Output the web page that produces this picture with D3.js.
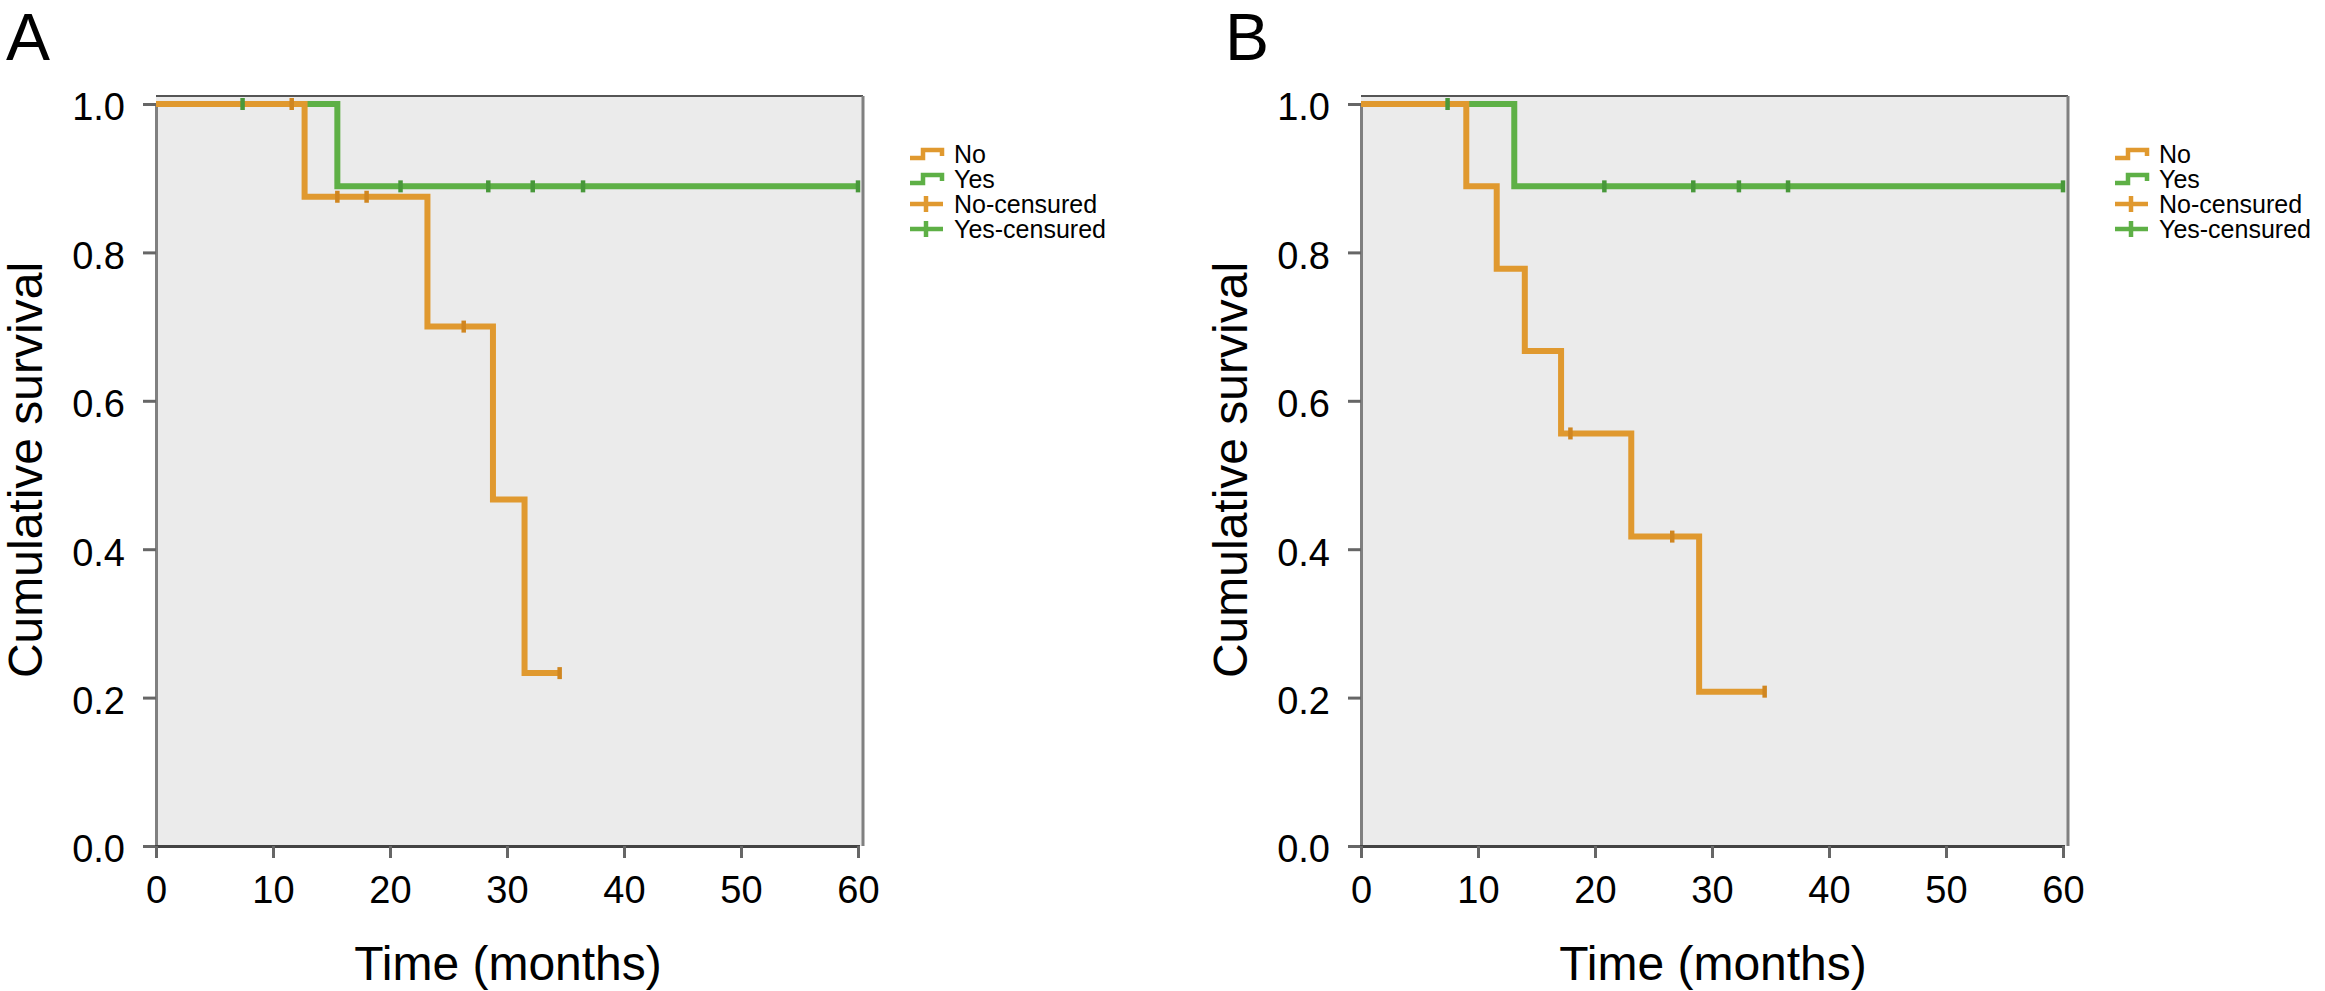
<!DOCTYPE html>
<html><head><meta charset="utf-8">
<script src="https://cdn.jsdelivr.net/npm/d3@7/dist/d3.min.js"></script>
<style>
html,body{margin:0;padding:0;background:#fff;}
svg text{font-family:"Liberation Sans",Arial,Helvetica,sans-serif;fill:#000;}
</style></head>
<body>
<svg id="chart" width="2325" height="991"></svg>
<script>
// ---- data ----
const panelLabels = ["A", "B"];
const xTicks = [0, 10, 20, 30, 40, 50, 60];
const yTicks = [0.0, 0.2, 0.4, 0.6, 0.8, 1.0];
const legendLabels = ["No", "Yes", "No-censured", "Yes-censured"];
const xTitle = "Time (months)";
const yTitle = "Cumulative survival";

// Panel A: step curves [time, survival]
const aNoSteps = [[0,1.0],[12.7,0.875],[23.2,0.700],[28.8,0.467],[31.5,0.233],[34.5,0.233]];
const aNoCensored = [[11.6,1.0],[15.5,0.875],[18.0,0.875],[26.3,0.700],[34.5,0.233]];
const aYesSteps = [[0,1.0],[15.5,0.889],[60,0.889]];
const aYesCensored = [[7.4,1.0],[20.9,0.889],[28.4,0.889],[32.2,0.889],[36.5,0.889],[60,0.889]];

// Panel B
const bNoSteps = [[0,1.0],[9.0,0.889],[11.6,0.778],[14.0,0.667],[17.1,0.556],[23.1,0.417],[28.9,0.208],[34.5,0.208]];
const bNoCensored = [[17.9,0.556],[26.6,0.417],[34.5,0.208]];
const bYesSteps = [[0,1.0],[13.1,0.889],[60,0.889]];
const bYesCensored = [[7.4,1.0],[20.8,0.889],[28.4,0.889],[32.3,0.889],[36.5,0.889],[60,0.889]];

const panels = [
  {label: panelLabels[0], no: aNoSteps, noC: aNoCensored, yes: aYesSteps, yesC: aYesCensored},
  {label: panelLabels[1], no: bNoSteps, noC: bNoCensored, yes: bYesSteps, yesC: bYesCensored}
];

const colNo = "#e0992f", colYes = "#5eb046";
const colNoC = "#d08620", colYesC = "#48983a";

const svg = d3.select("#chart");

panels.forEach((p, i) => {
  const off = i * 1205;
  const g = svg.append("g").attr("transform", `translate(${off},0)`);
  const x = d3.scaleLinear().domain([0, 60]).range([156, 858]);
  const y = d3.scaleLinear().domain([0, 1]).range([846, 104]);

  // panel letter
  g.append("text").attr("x", i === 0 ? 6 : 20).attr("y", 60)
    .style("font-size", "66px").text(p.label);

  // plot background
  g.append("rect").attr("x", x(0)).attr("y", y(1) - 8)
    .attr("width", x(60) + 5 - x(0)).attr("height", y(0) - y(1) + 8)
    .attr("fill", "#ebebeb");
  // top and right frame
  g.append("line").attr("x1", x(0)).attr("x2", x(60) + 5)
    .attr("y1", y(1) - 8).attr("y2", y(1) - 8)
    .attr("stroke", "#555").attr("stroke-width", 2);
  g.append("line").attr("x1", x(60) + 5).attr("x2", x(60) + 5)
    .attr("y1", y(1) - 8).attr("y2", y(0))
    .attr("stroke", "#808080").attr("stroke-width", 3);

  // axes
  const yAxis = d3.axisLeft(y).tickValues(yTicks).tickFormat(d3.format(".1f"))
    .tickSize(13).tickPadding(18);
  const ya = g.append("g").attr("transform", `translate(${x(0)},0)`).call(yAxis);
  ya.select(".domain").attr("stroke", "#808080").attr("stroke-width", 3);
  ya.selectAll(".tick line").attr("stroke", "#666").attr("stroke-width", 3);
  ya.selectAll(".tick text").style("font-size", "38px").attr("font-family", null)
    .attr("dy", "0.42em");

  const xAxis = d3.axisBottom(x).tickValues(xTicks).tickFormat(d3.format("d"))
    .tickSize(12).tickPadding(18);
  const xa = g.append("g").attr("transform", `translate(0,${y(0)})`).call(xAxis);
  xa.select(".domain").attr("stroke", "#444").attr("stroke-width", 3);
  xa.selectAll(".tick line").attr("stroke", "#666").attr("stroke-width", 3);
  xa.selectAll(".tick text").style("font-size", "38px").attr("font-family", null);

  // axis titles
  g.append("text").attr("x", 508).attr("y", 980).attr("text-anchor", "middle")
    .style("font-size", "48px").text(xTitle);
  g.append("text").attr("transform", `translate(42,470) rotate(-90)`)
    .attr("text-anchor", "middle").style("font-size", "48px").text(yTitle);

  // curves
  const line = d3.line().x(d => x(d[0])).y(d => y(d[1])).curve(d3.curveStepAfter);
  g.append("path").datum(p.yes).attr("d", line).attr("fill", "none")
    .attr("stroke", colYes).attr("stroke-width", 6);
  g.append("path").datum(p.no).attr("d", line).attr("fill", "none")
    .attr("stroke", colNo).attr("stroke-width", 6);

  // censor marks
  g.selectAll(".cy").data(p.yesC).join("line")
    .attr("x1", d => x(d[0])).attr("x2", d => x(d[0]))
    .attr("y1", d => y(d[1]) - 6).attr("y2", d => y(d[1]) + 6)
    .attr("stroke", colYesC).attr("stroke-width", 4.5);
  g.selectAll(".cn").data(p.noC).join("line")
    .attr("x1", d => x(d[0])).attr("x2", d => x(d[0]))
    .attr("y1", d => y(d[1]) - 6).attr("y2", d => y(d[1]) + 6)
    .attr("stroke", colNoC).attr("stroke-width", 4.5);

  // legend
  const lg = g.append("g");
  const lx = 910;
  const rows = [
    {t: legendLabels[0], c: colNo, type: "step"},
    {t: legendLabels[1], c: colYes, type: "step"},
    {t: legendLabels[2], c: colNo, type: "cross"},
    {t: legendLabels[3], c: colYes, type: "cross"}
  ];
  rows.forEach((r, k) => {
    const base = 163 + k * 25;
    const c = base - 9;
    if (r.type === "step") {
      lg.append("path")
        .attr("d", `M${lx},${c + 4}H${lx + 13}V${c - 4}H${lx + 32}V${c + 2}`)
        .attr("fill", "none").attr("stroke", r.c).attr("stroke-width", 4.5);
    } else {
      lg.append("line").attr("x1", lx).attr("x2", lx + 33).attr("y1", c).attr("y2", c)
        .attr("stroke", r.c).attr("stroke-width", 4.5);
      lg.append("line").attr("x1", lx + 16).attr("x2", lx + 16).attr("y1", c - 8).attr("y2", c + 8)
        .attr("stroke", r.c).attr("stroke-width", 4.5);
    }
    lg.append("text").attr("x", 954).attr("y", base).style("font-size", "25px").text(r.t);
  });
});
</script>
</body></html>
